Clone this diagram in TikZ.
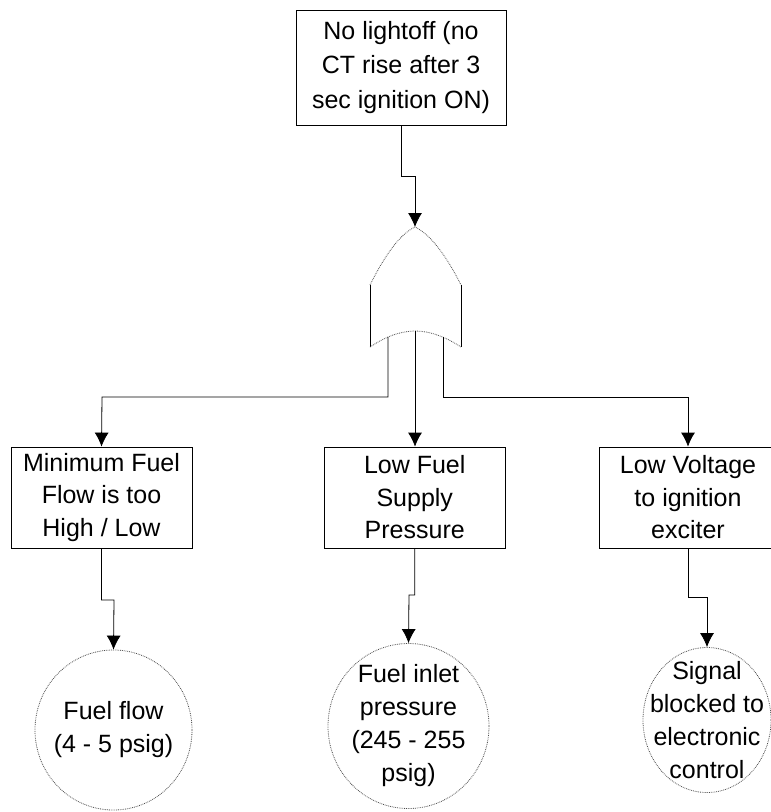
\documentclass[tikz,border=0pt]{standalone}
\usepackage{fontspec}
\setmainfont{Liberation Sans}
\usetikzlibrary{arrows.meta,shapes.geometric}
\tikzset{
	eventbox/.style={draw, thick, align=center, inner sep=0pt, minimum height=101pt, font=\fontsize{25}{32.5}\selectfont},
	causeoval/.style={draw=black!70, densely dotted, thick, ellipse, align=center, inner sep=-30pt, font=\fontsize{25}{33}\selectfont},
	link/.style={draw, thick},
	linkarrow/.style={link, -{Latex[length=14pt,width=14pt]}}
}
\begin{document}
\begin{tikzpicture}[x=1pt,y=-1pt]
		\useasboundingbox (0,0) rectangle (771,812);
		% events
		\node[eventbox, minimum width=210pt, minimum height=115pt, font=\fontsize{25}{34.5}\selectfont] (nolightoff) at (401,67.5) {No lightoff (no\\CT rise after 3\\sec ignition ON)};
		\node[eventbox, minimum width=181pt] (minflow) at (101.5,497.5) {Minimum Fuel\\Flow is too\\High / Low};
		\node[eventbox, minimum width=181pt] (lowsupply) at (414.75,497.5) {Low Fuel\\Supply\\Pressure};
		\node[eventbox, minimum width=178pt] (lowvoltage) at (688,497.5) {Low Voltage\\to ignition\\exciter};
		% causes
		\node[causeoval, minimum width=157pt, minimum height=160pt] (fuelflow) at (113.5,730) {Fuel flow\\(4 - 5 psig)};
		\node[causeoval, minimum width=161pt, minimum height=165pt] (inletpressure) at (408.5,726) {Fuel inlet\\pressure\\(245 - 255\\psig)};
		\node[causeoval, minimum width=128pt, minimum height=145pt] (signalblocked) at (707,720) {Signal\\blocked to\\electronic\\control};
		% gate
		\coordinate (gatetop) at (415,227);
		\coordinate (gateleft) at (370,285);
		\coordinate (gateright) at (461,285);
		\coordinate (gateleftlow) at (370,347);
		\coordinate (gaterightlow) at (461,347);
		\coordinate (gatemid) at (415,331);
		\coordinate (gateinleft) at (388,337);
		\coordinate (gateinright) at (443,337);
		\draw[thick] (gateleft) -- (gateleftlow);
		\draw[thick] (gateright) -- (gaterightlow);
		\draw[thick, black!70, densely dotted] (gateleft) .. controls (385,255) and (400,234) .. (gatetop) .. controls (430,234) and (446,255) .. (gateright);
		\draw[thick, black!70, densely dotted] (gateleftlow) .. controls (385,337) and (400,331) .. (gatemid) .. controls (430,331) and (446,337) .. (gaterightlow);
		% links
		\coordinate (jogtop) at (415,176);
		\draw[linkarrow] (nolightoff.south) |- (jogtop) -- (gatetop);
		\coordinate (busleft) at (102,397);
		\coordinate (busright) at (688,397);
		\draw[linkarrow] (gateinleft) |- (busleft) -- (minflow.north);
		\draw[linkarrow] (gatemid) -- (gatemid |- lowsupply.north);
		\draw[linkarrow] (gateinright) |- (busright) -- (lowvoltage.north);
		\coordinate (jogflow) at (114,600);
		\coordinate (jogpressure) at (409,595);
		\coordinate (jogsignal) at (707,597);
		\draw[linkarrow] (minflow.south) |- (jogflow) -- (fuelflow.north);
		\draw[linkarrow] (lowsupply.south) |- (jogpressure) -- (inletpressure.north);
		\draw[linkarrow] (lowvoltage.south) |- (jogsignal) -- (signalblocked.north);
	\end{tikzpicture}
\end{document}
